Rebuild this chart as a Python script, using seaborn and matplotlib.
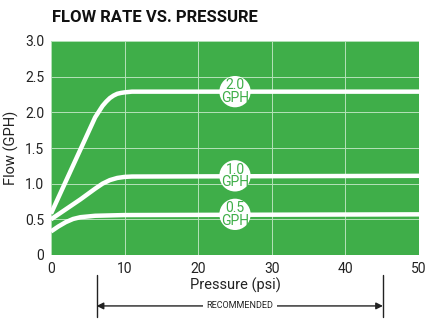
import matplotlib
matplotlib.use("Agg")
import matplotlib.pyplot as plt
import seaborn as sns
import pandas as pd

# ---- data ----
x_2gph = [0, 2, 4, 6, 7, 7.5, 8, 8.5, 9, 9.5, 10, 11, 50]
y_2gph = [0.58, 1.03, 1.48, 1.93, 2.09, 2.15, 2.20, 2.235, 2.26, 2.272, 2.28, 2.29, 2.29]
x_1gph = [0, 2, 4, 6, 7, 8, 9, 10, 11, 50]
y_1gph = [0.50, 0.64, 0.78, 0.93, 1.00, 1.05, 1.08, 1.095, 1.10, 1.11]
x_05gph = [0, 1, 2, 3, 4, 5, 6, 10, 50]
y_05gph = [0.33, 0.40, 0.46, 0.505, 0.53, 0.54, 0.55, 0.56, 0.57]
labels = ["2.0\nGPH", "1.0\nGPH", "0.5\nGPH"]
label_x = 25
label_y = [2.29, 1.11, 0.57]
x_ticks = [0, 10, 20, 30, 40, 50]
y_ticks = [0, 0.5, 1.0, 1.5, 2.0, 2.5, 3.0]
y_tick_labels = ["0", "0.5", "1.0", "1.5", "2.0", "2.5", "3.0"]
rec_start, rec_end = 6.2, 45.1

sns.set_theme(style="white")
plt.rcParams["font.family"] = ["Roboto", "DejaVu Sans"]

GREEN = "#3fae49"
DARK = "#222222"

df = pd.concat([
    pd.DataFrame({"x": x_2gph, "y": y_2gph, "s": "2.0"}),
    pd.DataFrame({"x": x_1gph, "y": y_1gph, "s": "1.0"}),
    pd.DataFrame({"x": x_05gph, "y": y_05gph, "s": "0.5"}),
])

fig = plt.figure(figsize=(4.33, 3.23), dpi=100)
ax = fig.add_axes([51/433, 1-255/323, (419-51)/433, (255-41)/323])
ax.set_facecolor(GREEN)
for sp in ax.spines.values():
    sp.set_visible(False)

ax.set_xlim(0, 50)
ax.set_ylim(0, 3.0)
ax.set_xticks(x_ticks)
ax.set_yticks(y_ticks)
ax.set_yticklabels(y_tick_labels)
ax.grid(True, color="#b5e2b9", linewidth=0.7)
ax.set_axisbelow(True)
ax.tick_params(length=0, labelsize=10, colors=DARK, pad=5)

sns.lineplot(data=df, x="x", y="y", units="s", estimator=None, sort=False,
             color="white", linewidth=3.2, ax=ax, legend=False,
             solid_capstyle="butt")

for lab, ly in zip(labels, label_y):
    ax.text(label_x, ly, lab, ha="center", va="center", color=GREEN,
            fontsize=10, linespacing=0.85, zorder=5,
            bbox=dict(boxstyle="circle,pad=0.12", fc="white", ec="none"))

ax.set_xlabel("Pressure (psi)", fontsize=10.5, color=DARK, labelpad=1)
ax.set_ylabel("Flow (GPH)", fontsize=10.5, color=DARK, labelpad=4)

fig.text(52/433, 1-17/323, "FLOW RATE VS. PRESSURE", fontsize=12,
         fontweight="bold", color="#111111", va="center", ha="left")

trans = ax.get_xaxis_transform()
for xv in (rec_start, rec_end):
    ax.plot([xv, xv], [-0.093, -0.29], transform=trans, color=DARK,
            linewidth=1.0, clip_on=False)
ax.annotate("", xy=(rec_start, -0.238), xytext=(rec_end, -0.238),
            xycoords=trans, textcoords=trans,
            arrowprops=dict(arrowstyle="<|-|>", color=DARK, lw=1.0,
                            mutation_scale=10, shrinkA=0, shrinkB=0))
ax.text((rec_start + rec_end) / 2, -0.238, "RECOMMENDED", transform=trans,
        ha="center", va="center", fontsize=6.5, color=DARK,
        bbox=dict(boxstyle="square,pad=0.4", fc="white", ec="none"))

fig.savefig("out.png", dpi=100, facecolor="white")
